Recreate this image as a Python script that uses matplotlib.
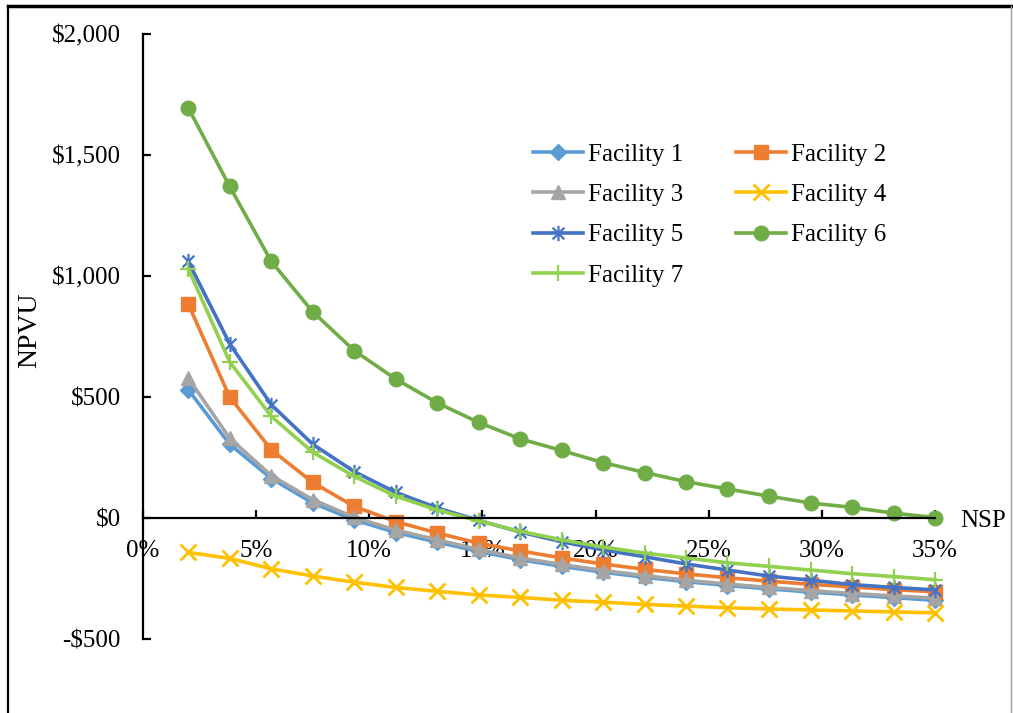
"""
NPVU vs NSP for seven facilities.
"""

import matplotlib
matplotlib.use('Agg')
import matplotlib.pyplot as plt
from matplotlib.lines import Line2D
from matplotlib.path import Path
from matplotlib.ticker import FuncFormatter

plt.rcParams['font.family'] = ['Liberation Serif', 'DejaVu Serif']

# Data
nsp = [2.0, 3.83, 5.67, 7.5, 9.33, 11.17, 13.0, 14.83, 16.67, 18.5,
       20.33, 22.17, 24.0, 25.83, 27.67, 29.5, 31.33, 33.17, 35.0]

facility1 = [530, 305, 163, 62, -8, -60, -100, -138, -172, -200,
             -224, -245, -263, -279, -293, -306, -318, -329, -340]
facility2 = [884, 500, 282, 147, 48, -15, -62, -104, -136, -165,
             -190, -212, -231, -247, -261, -274, -285, -296, -305]
facility3 = [578, 330, 175, 76, 3, -50, -90, -130, -165, -192,
             -217, -238, -257, -273, -287, -300, -312, -322, -331]
facility4 = [-142, -167, -210, -240, -265, -287, -303, -318, -328, -340,
             -348, -357, -364, -371, -376, -380, -384, -388, -392]
facility5 = [1060, 720, 468, 305, 192, 106, 42, -10, -58, -98,
             -132, -160, -190, -215, -240, -257, -275, -287, -297]
facility6 = [1695, 1370, 1060, 852, 692, 574, 476, 395, 327, 279,
             229, 188, 150, 120, 90, 62, 44, 20, 2]
facility7 = [1030, 645, 420, 272, 172, 90, 33, -12, -55, -90,
             -120, -145, -165, -185, -200, -215, -230, -242, -255]

names = ['Facility 1', 'Facility 2', 'Facility 3', 'Facility 4',
         'Facility 5', 'Facility 6', 'Facility 7']
series = [facility1, facility2, facility3, facility4, facility5, facility6, facility7]

y_ticks = [-500, 0, 500, 1000, 1500, 2000]
x_ticks = [0, 5, 10, 15, 20, 25, 30, 35]

# Excel-style star marker: an X with a vertical bar through it
star = Path([(-1, -1), (1, 1), (-1, 1), (1, -1), (0, -1.3), (0, 1.3)],
            [Path.MOVETO, Path.LINETO, Path.MOVETO, Path.LINETO, Path.MOVETO, Path.LINETO])

# Styles
colors = ['#5B9BD5', '#ED7D31', '#A5A5A5', '#FFC000', '#4472C4', '#70AD47', '#92D050']
markers = ['D', 's', '^', 'x', star, 'o', '+']
msizes = [8, 10, 10, 11, 11, 10.5, 12]
mew = [1, 1, 1, 2, 1.6, 1, 1.6]

fig = plt.figure(figsize=(10.13, 7.13), dpi=100)
ax = fig.add_axes([143/1013, 1 - 639/713, (935 - 143)/1013, (639 - 34)/713])

for name, vals, c, m, ms, mw in zip(names, series, colors, markers, msizes, mew):
    ax.plot(nsp, vals, color=c, lw=2.6, marker=m, ms=ms, mew=mw,
            mec=c, mfc='none' if m is star else c, label=name, clip_on=False)

ax.set_xlim(0, 35)
ax.set_ylim(-500, 2000)
ax.set_xticks(x_ticks)
ax.set_yticks(y_ticks)

def money(v, pos):
    if v < 0:
        return '-\\${:,.0f}'.format(-v)
    return '\\${:,.0f}'.format(v)

ax.yaxis.set_major_formatter(FuncFormatter(money))
ax.xaxis.set_major_formatter(FuncFormatter(lambda v, pos: '{:.0f}%'.format(v)))

ax.spines['top'].set_visible(False)
ax.spines['right'].set_visible(False)
ax.spines['bottom'].set_position(('data', 0))
ax.spines['left'].set_linewidth(1.6)
ax.spines['bottom'].set_linewidth(1.6)
ax.tick_params(axis='both', direction='in', length=6, width=1.6, labelsize=18)
ax.tick_params(axis='x', pad=16)
ax.tick_params(axis='y', pad=16)

fig.text(30/1013, 1 - 330/713, 'NPVU', rotation=90, fontsize=20,
         ha='center', va='center')
fig.text(960/1013, 1 - 521/713, 'NSP', fontsize=18, ha='left', va='center')

# Legend: Excel fills row-wise, matplotlib column-wise
handles, labels = ax.get_legend_handles_labels()
order = [0, 2, 4, 6, 1, 3, 5]
ax.legend([handles[i] for i in order], [labels[i] for i in order],
          ncol=2, loc='upper left', bbox_to_anchor=(533/1013, 1 - 143/713),
          bbox_transform=fig.transFigure, frameon=False, fontsize=18,
          handlelength=2.0, handletextpad=0.2, columnspacing=2.1,
          labelspacing=0.72, borderpad=0, borderaxespad=0)

# Outer frame (cropped picture border)
fig.add_artist(Line2D([8/1013, 1011/1013], [1 - 6/713, 1 - 6/713],
                      transform=fig.transFigure, color='black', lw=2.5))
fig.add_artist(Line2D([8/1013, 8/1013], [0, 1 - 6/713],
                      transform=fig.transFigure, color='black', lw=1.6))
fig.add_artist(Line2D([1011/1013, 1011/1013], [0, 1 - 6/713],
                      transform=fig.transFigure, color='#999999', lw=1))

fig.savefig('out.png', dpi=100)
